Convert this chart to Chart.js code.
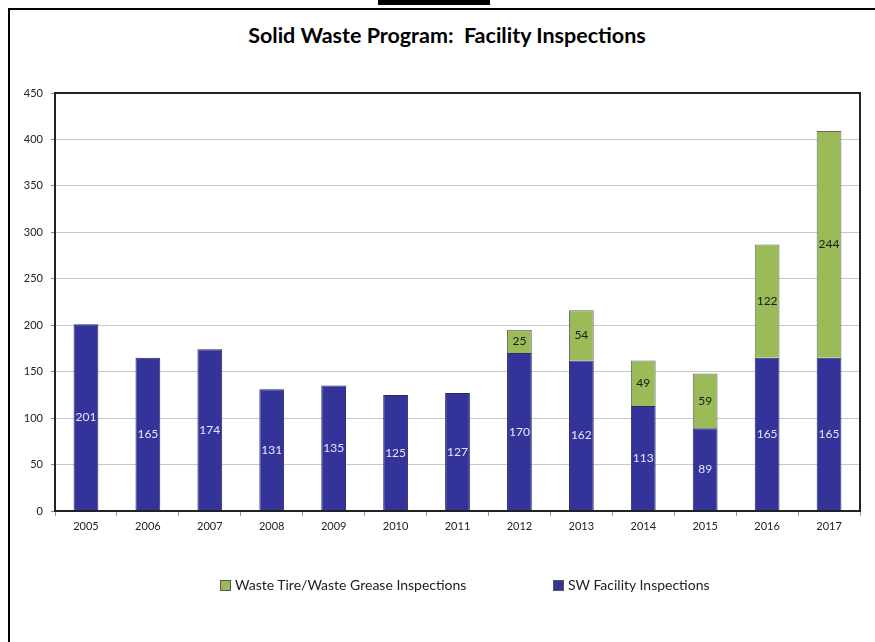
<!DOCTYPE html>
<html>
<head>
<meta charset="utf-8">
<title>Solid Waste Program: Facility Inspections</title>
<script src="https://cdn.jsdelivr.net/npm/chart.js@4.4.0/dist/chart.umd.min.js"></script>
<style>
    html, body { margin: 0; padding: 0; background: #fff; }
    body { width: 875px; height: 642px; position: relative; overflow: hidden; font-family: Lato, "Open Sans", sans-serif; }
    .top-bar { position: absolute; left: 378px; top: 0; width: 112px; height: 5px; background: #000; }
    .frame { position: absolute; left: 8px; top: 8px; width: 880px; height: 700px; border-left: 2px solid #000; border-top: 2px solid #000; }
    #chartTitle { position: absolute; left: 247px; width: 400px; top: 21px; text-align: center; font-size: 21.5px; font-weight: bold; color: #000; line-height: 28px; white-space: pre; }
    #chartWrap { position: absolute; left: 0; top: 0; width: 875px; height: 642px; }
    #legend { position: absolute; top: 576px; left: 0; width: 875px; height: 18px; font-size: 14px; color: #222; }
    .legend-item { position: absolute; top: 0; white-space: nowrap; }
    .legend-box { display: inline-block; width: 9px; height: 9px; border: 1px solid #555; vertical-align: -1px; margin-right: 4px; }
</style>
</head>
<body>
<div class="top-bar"></div>
<div class="frame"></div>
<div id="chartTitle">Solid Waste Program:  Facility Inspections</div>
<div id="chartWrap"><canvas id="inspectionsChart" width="875" height="642"></canvas></div>
<div id="legend"></div>

<script>
// Data
const years = ['2005', '2006', '2007', '2008', '2009', '2010', '2011', '2012', '2013', '2014', '2015', '2016', '2017'];
const swFacility = [201, 165, 174, 131, 135, 125, 127, 170, 162, 113, 89, 165, 165];
const tireGrease = [null, null, null, null, null, null, null, 25, 54, 49, 59, 122, 244];
const yTicks = [0, 50, 100, 150, 200, 250, 300, 350, 400, 450];

const BLUE = '#333399';
const GREEN = '#9bbb59';

// value labels drawn in the middle of each segment
const segmentLabels = {
    id: 'segmentLabels',
    afterDatasetsDraw(chart) {
        const ctx = chart.ctx;
        ctx.save();
        ctx.font = '12px Lato, "Open Sans", sans-serif';
        ctx.textAlign = 'center';
        ctx.textBaseline = 'middle';
        chart.data.datasets.forEach((ds, i) => {
            const meta = chart.getDatasetMeta(i);
            ctx.fillStyle = ds.labelColor;
            meta.data.forEach((bar, j) => {
                const v = ds.data[j];
                if (v == null) return;
                const props = bar.getProps(['x', 'y', 'base'], true);
                ctx.fillText(String(v), props.x, (props.y + props.base) / 2);
            });
        });
        ctx.restore();
    }
};

// dark frame round the plot area
const plotFrame = {
    id: 'plotFrame',
    afterDraw(chart) {
        const a = chart.chartArea;
        const ctx = chart.ctx;
        ctx.save();
        ctx.strokeStyle = '#222';
        ctx.lineWidth = 2;
        ctx.strokeRect(a.left, a.top, a.right - a.left, a.bottom - a.top);
        ctx.restore();
    }
};

const chart = new Chart(document.getElementById('inspectionsChart').getContext('2d'), {
    type: 'bar',
    data: {
        labels: years,
        datasets: [{
            label: 'SW Facility Inspections',
            data: swFacility,
            backgroundColor: BLUE,
            borderColor: '#2a2a6a',
            borderWidth: 1,
            labelColor: '#e6e6ff',
            barPercentage: 0.4,
            categoryPercentage: 1.0
        }, {
            label: 'Waste Tire/Waste Grease Inspections',
            data: tireGrease,
            backgroundColor: GREEN,
            borderColor: '#666',
            borderWidth: 1,
            labelColor: '#1a1a1a',
            barPercentage: 0.4,
            categoryPercentage: 1.0
        }]
    },
    options: {
        responsive: false,
        animation: false,
        layout: {
            padding: { left: 0, right: 15, top: 93, bottom: 101 }
        },
        plugins: {
            legend: { display: false },
            tooltip: { enabled: false },
            title: { display: false }
        },
        scales: {
            x: {
                stacked: true,
                grid: {
                    display: true,
                    drawOnChartArea: false,
                    tickLength: 5,
                    color: '#999'
                },
                border: { display: false },
                ticks: {
                    color: '#222',
                    padding: 4,
                    font: { family: 'Lato, "Open Sans", sans-serif', size: 11 }
                },
                afterFit(scale) { scale.height = 30; }
            },
            y: {
                stacked: true,
                min: 0,
                max: 450,
                afterBuildTicks(scale) {
                    scale.ticks = yTicks.map(v => ({ value: v }));
                },
                grid: {
                    color: '#c8c8c8',
                    tickLength: 4,
                    tickColor: '#888'
                },
                border: { display: false },
                ticks: {
                    color: '#222',
                    padding: 8,
                    font: { family: 'Lato, "Open Sans", sans-serif', size: 11 }
                },
                afterFit(scale) { scale.width = 55; }
            }
        }
    },
    plugins: [segmentLabels, plotFrame]
});

// legend: green item first, then blue, as in the reference
const legendEl = document.getElementById('legend');
const legendPos = [220, 553];
[1, 0].forEach((idx, k) => {
    const ds = chart.data.datasets[idx];
    const item = document.createElement('div');
    item.className = 'legend-item';
    item.style.left = legendPos[k] + 'px';
    item.innerHTML = '<span class="legend-box" style="background:' + ds.backgroundColor + '"></span>' + ds.label;
    legendEl.appendChild(item);
});
</script>
</body>
</html>
